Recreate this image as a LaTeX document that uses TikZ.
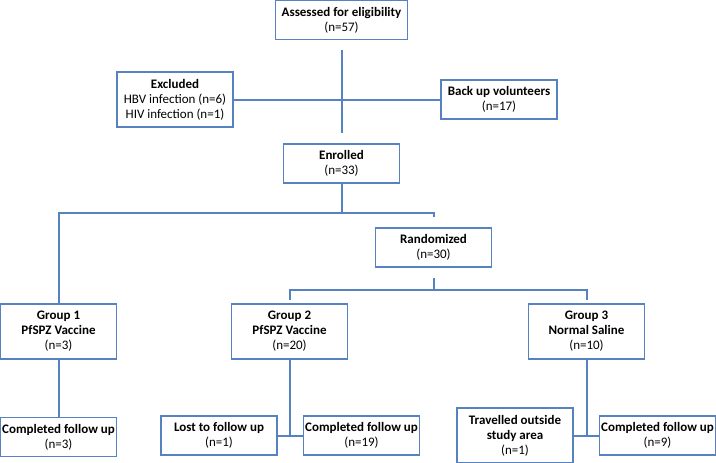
\documentclass[tikz,border=0pt]{standalone}
\usepackage{fontspec}
\setmainfont{Carlito}
\usetikzlibrary{positioning}
\definecolor{frame}{HTML}{5683BF}
\tikzset{node distance=25pt, box/.style={draw=frame,rectangle,line width=1.5pt,align=center,minimum width=116pt,minimum height=39pt,inner sep=0pt,font=\fontsize{13}{15}\selectfont}, tall/.style={box,minimum height=55pt}, link/.style={draw=frame,line width=2pt}}

\begin{document}
\begin{tikzpicture}[x=1pt,y=-1pt]
				\useasboundingbox (0,0) rectangle (716,463);
				\node[box,minimum width=132pt] (assess) at (341.5,20) {\textbf{Assessed for eligibility}\\(n=57)};
				\node[tall]  (excl) at (175,99.5) {\textbf{Excluded}\\HBV infection (n=6)\\HIV infection (n=1)};
				\node[box]   (backup) at (499,99.5) {\textbf{Back up volunteers}\\(n=17)};
				\node[box]   (enrol) at (341.5,163.5) {\textbf{Enrolled}\\(n=33)};
				\node[box]   (rand) at (433.5,247.5) {\textbf{Randomized}\\(n=30)};
				\node[tall]  (grp1) at (58.5,331.5) {\textbf{Group 1}\\\textbf{PfSPZ Vaccine}\\(n=3)};
				\node[tall]  (grp2) at (289.5,331.5) {\textbf{Group 2}\\\textbf{PfSPZ Vaccine}\\(n=20)};
				\node[tall]  (grp3) at (586.5,331.5) {\textbf{Group 3}\\\textbf{Normal Saline}\\(n=10)};
				\node[box]   (done1) [below=57pt of grp1] {\textbf{Completed follow up}\\(n=3)};
				\node[box]   (lost) at (219,435.5) {\textbf{Lost to follow up}\\(n=1)};
				\node[box]   (done2) [right=of lost] {\textbf{Completed follow up}\\(n=19)};
				\node[tall]  (trav) at (515,435.5) {\textbf{Travelled outside}\\\textbf{study area}\\(n=1)};
				\node[box]   (done3) [right=of trav] {\textbf{Completed follow up}\\(n=9)};

				\coordinate (fork) at (341.5,212.5);
				\coordinate (split) at (433.5,289.5);

				\draw[link,shorten <=10pt,shorten >=10pt] (assess) -- (enrol);
				\path[link]
					(excl) -- (backup)
					(enrol) -- (fork)
					(grp1.north) |- (fork) -| ([yshift=10pt]rand.north)
					([yshift=3pt]grp2.north) |- (split) -| ([yshift=3pt]grp3.north)
					(grp1) -- (done1)
					(grp2) -- (grp2 |- lost)
					(lost) -- (done2)
					(grp3) -- (grp3 |- trav)
					(trav) -- (done3);
				\draw[link,shorten <=10pt] (rand) -- (split);
			\end{tikzpicture}
\end{document}
